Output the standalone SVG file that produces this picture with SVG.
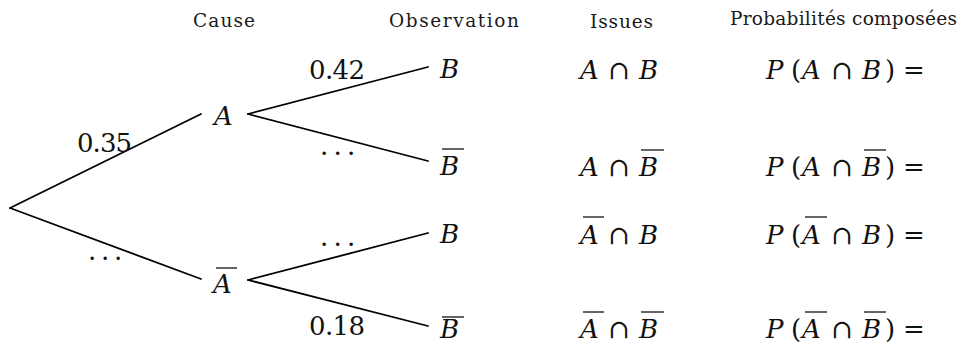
<svg xmlns="http://www.w3.org/2000/svg" width="969" height="347" viewBox="0 0 969 347">
<style>
  .hd { font-family: "DejaVu Serif", serif; font-size: 18.5px; fill: #1a1a1a; }
  .m { font-family: "DejaVu Serif", serif; font-size: 26px; fill: #111; }
  .i { font-style: italic; }
  .edge { stroke: #000; stroke-width: 1.8; fill: none; stroke-linecap: round; }
  .bar { stroke: #111; stroke-width: 1.3; }
</style>
<rect width="969" height="347" fill="#fff"/>
<g id="headers">
  <text class="hd" x="193" y="27" textLength="62">Cause</text>
  <text class="hd" x="389" y="27" textLength="130">Observation</text>
  <text class="hd" x="590" y="28" textLength="63">Issues</text>
  <text class="hd" x="730" y="25" textLength="227">Probabilités composées</text>
</g>
<g id="connectors">
  <line class="edge" x1="10" y1="208" x2="201" y2="114"/>
  <line class="edge" x1="10" y1="208" x2="201" y2="279"/>
  <line class="edge" x1="248" y1="114" x2="428" y2="67"/>
  <line class="edge" x1="248" y1="114" x2="428" y2="161"/>
  <line class="edge" x1="248" y1="280" x2="428" y2="233"/>
  <line class="edge" x1="248" y1="280" x2="428" y2="326"/>
  <text class="m" x="77" y="152" textLength="55">0.35</text>
  <text class="m" x="88 101 114" y="260">...</text>
  <text class="m" x="309" y="79" textLength="56">0.42</text>
  <text class="m" x="320 333.5 347" y="155">...</text>
  <text class="m" x="320 333.5 347" y="246">...</text>
  <text class="m" x="309" y="335" textLength="56">0.18</text>
</g>
<g id="node-A">
  <text class="m i" x="214" y="125">A</text>
</g>
<g id="node-Abar">
  <text class="m i" x="213" y="293">A</text>
  <line class="bar" x1="216" y1="268" x2="237" y2="268"/>
</g>
<g id="node-B1">
  <text class="m i" x="440" y="78">B</text>
</g>
<g id="node-Bbar1">
  <text class="m i" x="440" y="175">B</text>
  <line class="bar" x1="442" y1="149" x2="464" y2="149"/>
</g>
<g id="node-B2">
  <text class="m i" x="440" y="243">B</text>
</g>
<g id="node-Bbar2">
  <text class="m i" x="440" y="338">B</text>
  <line class="bar" x1="442" y1="317" x2="464" y2="317"/>
</g>
<g id="issues">
  <text class="m" y="79"><tspan class="i" x="580">A</tspan><tspan x="608">∩</tspan><tspan class="i" x="639">B</tspan></text>
  <text class="m" y="176"><tspan class="i" x="580">A</tspan><tspan x="608">∩</tspan><tspan class="i" x="639">B</tspan></text>
  <line class="bar" x1="641" y1="150" x2="664" y2="150"/>
  <text class="m" y="244"><tspan class="i" x="580">A</tspan><tspan x="608">∩</tspan><tspan class="i" x="639">B</tspan></text>
  <line class="bar" x1="583" y1="217" x2="604" y2="217"/>
  <text class="m" y="338"><tspan class="i" x="580">A</tspan><tspan x="608">∩</tspan><tspan class="i" x="639">B</tspan></text>
  <line class="bar" x1="583" y1="312" x2="604" y2="312"/>
  <line class="bar" x1="641" y1="312" x2="664" y2="312"/>
</g>
<g id="probabilities">
  <text class="m" y="79"><tspan class="i" x="766">P</tspan><tspan x="791">(</tspan><tspan class="i" x="802">A</tspan><tspan x="831">∩</tspan><tspan class="i" x="862">B</tspan><tspan x="885">)</tspan><tspan x="903">=</tspan></text>
  <text class="m" y="176"><tspan class="i" x="766">P</tspan><tspan x="791">(</tspan><tspan class="i" x="802">A</tspan><tspan x="831">∩</tspan><tspan class="i" x="862">B</tspan><tspan x="885">)</tspan><tspan x="903">=</tspan></text>
  <line class="bar" x1="864" y1="150" x2="886" y2="150"/>
  <text class="m" y="244"><tspan class="i" x="766">P</tspan><tspan x="791">(</tspan><tspan class="i" x="802">A</tspan><tspan x="831">∩</tspan><tspan class="i" x="862">B</tspan><tspan x="885">)</tspan><tspan x="903">=</tspan></text>
  <line class="bar" x1="805" y1="217" x2="827" y2="217"/>
  <text class="m" y="338"><tspan class="i" x="766">P</tspan><tspan x="791">(</tspan><tspan class="i" x="802">A</tspan><tspan x="831">∩</tspan><tspan class="i" x="862">B</tspan><tspan x="885">)</tspan><tspan x="903">=</tspan></text>
  <line class="bar" x1="805" y1="312" x2="827" y2="312"/>
  <line class="bar" x1="864" y1="312" x2="886" y2="312"/>
</g>
</svg>
